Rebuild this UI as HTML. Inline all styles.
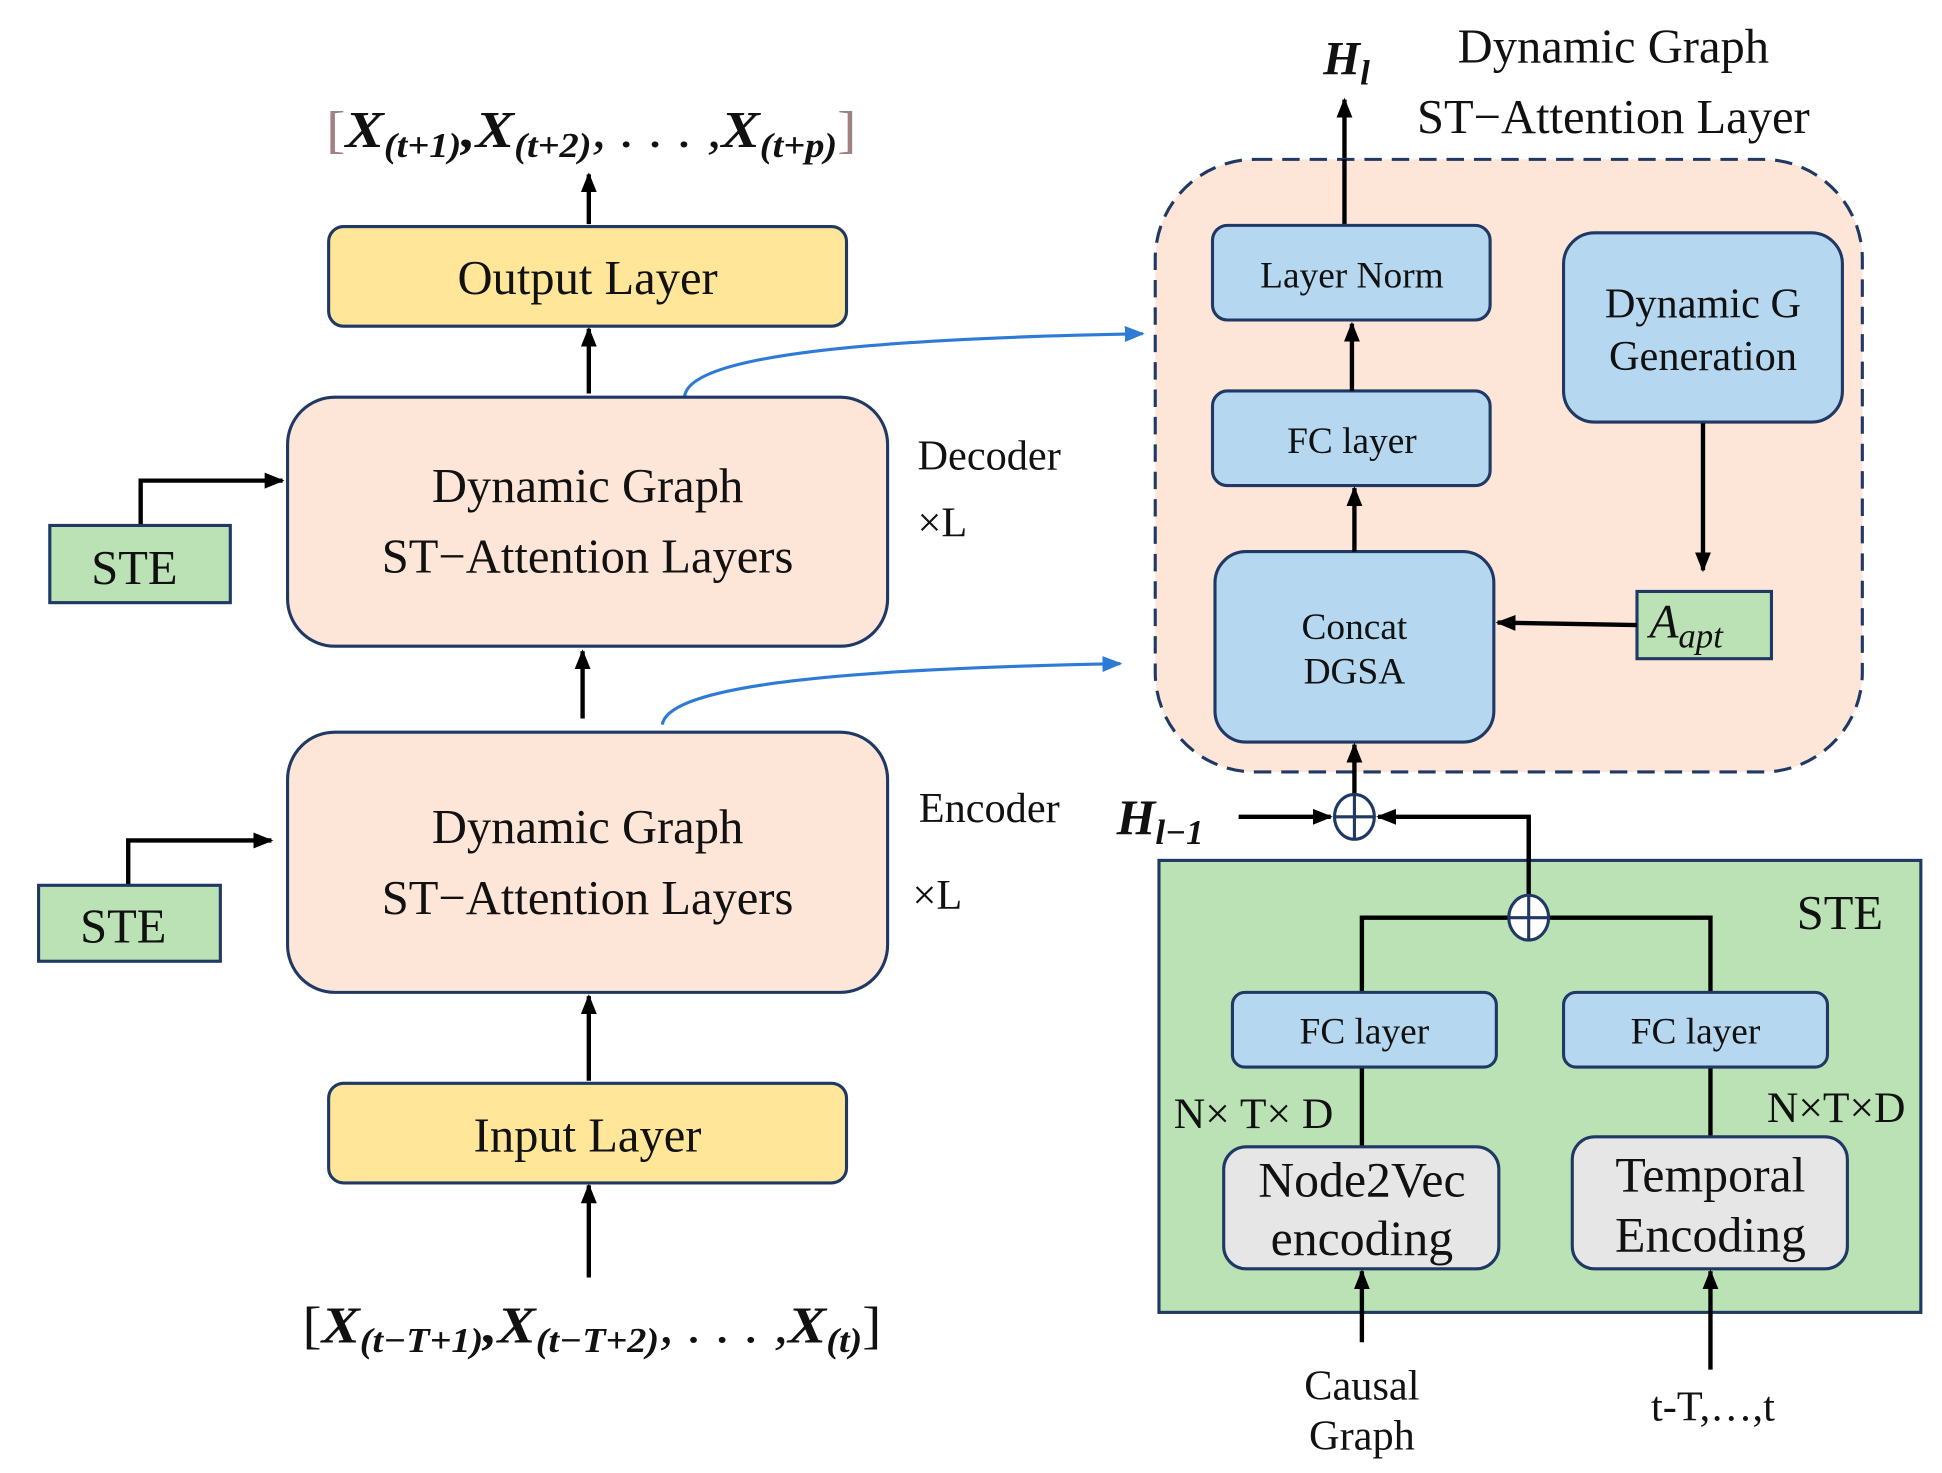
<!DOCTYPE html>
<html><head><meta charset="utf-8"><style>
html,body{margin:0;padding:0;background:#fff}
svg{display:block}
text{font-family:"Liberation Serif",serif;fill:#111}
</style></head><body>
<svg width="1942" height="1473" viewBox="0 0 1560 1183" preserveAspectRatio="none" xmlns="http://www.w3.org/2000/svg">
<defs>
<marker id="a" viewBox="0 0 10 10" refX="9" refY="5" markerWidth="16" markerHeight="16" orient="auto" markerUnits="userSpaceOnUse"><path d="M0,1L10,5L0,9z" fill="#000"/></marker>
<marker id="ab" viewBox="0 0 10 10" refX="9" refY="5" markerWidth="16" markerHeight="16" orient="auto" markerUnits="userSpaceOnUse"><path d="M0,1L10,5L0,9z" fill="#2E7BD6"/></marker>
</defs>
<g stroke="#000" stroke-width="3.5" fill="none" marker-end="url(#a)">
<line x1="473" y1="180" x2="473" y2="140"/>
<line x1="473" y1="316" x2="473" y2="264"/>
<line x1="468" y1="577" x2="468" y2="523"/>
<line x1="473" y1="868" x2="473" y2="800"/>
<line x1="473" y1="1026" x2="473" y2="952"/>
<polyline points="113,422 113,386 227,386"/>
<polyline points="103,711 103,675 218,675"/>
<line x1="1080" y1="180" x2="1080" y2="80"/>
</g>
<g stroke="#2E7BD6" stroke-width="2.5" fill="none" marker-end="url(#ab)">
<path d="M550,318 C555,285 700,272 918,268"/>
<path d="M532,582 C537,550 680,537 900,533"/>
</g>
<text x="262" y="118" font-size="42" textLength="426" lengthAdjust="spacingAndGlyphs" font-weight="bold" font-style="italic"><tspan fill="#a08080" font-weight="normal" font-style="normal">[</tspan>X<tspan font-size="28" dy="8">(t+1)</tspan><tspan dy="-8">,X</tspan><tspan font-size="28" dy="8">(t+2)</tspan><tspan dy="-8" font-weight="normal">, . . . ,</tspan>X<tspan font-size="28" dy="8">(t+p)</tspan><tspan dy="-8" fill="#a08080" font-weight="normal" font-style="normal">]</tspan></text>
<g stroke="#1F3864" stroke-width="2.5">
<rect x="264" y="182" width="416" height="80" rx="12" fill="#FFE699"/>
<rect x="231" y="319" width="482" height="200" rx="38" fill="#FDE5D8"/>
<rect x="40" y="422" width="145" height="62" fill="#BBE2B5"/>
<rect x="231" y="588" width="482" height="209" rx="38" fill="#FDE5D8"/>
<rect x="31" y="711" width="146" height="61" fill="#BBE2B5"/>
<rect x="264" y="870" width="416" height="80" rx="12" fill="#FFE699"/>
</g>
<text x="472" y="236" font-size="39" text-anchor="middle">Output Layer</text>
<text x="472" y="403" font-size="39" text-anchor="middle">Dynamic Graph</text>
<text x="472" y="460" font-size="39" text-anchor="middle">ST−Attention Layers</text>
<text x="108" y="469" font-size="39" text-anchor="middle">STE</text>
<text x="737" y="377" font-size="34">Decoder</text>
<text x="737" y="431" font-size="34">×L</text>
<text x="472" y="677" font-size="39" text-anchor="middle">Dynamic Graph</text>
<text x="472" y="734" font-size="39" text-anchor="middle">ST−Attention Layers</text>
<text x="99" y="757" font-size="39" text-anchor="middle">STE</text>
<text x="738" y="660" font-size="34">Encoder</text>
<text x="733" y="730" font-size="34">×L</text>
<text x="472" y="925" font-size="39" text-anchor="middle">Input Layer</text>
<text x="243" y="1078" font-size="42" textLength="465" lengthAdjust="spacingAndGlyphs" font-weight="bold" font-style="italic"><tspan font-weight="normal" font-style="normal">[</tspan>X<tspan font-size="28" dy="8">(t−T+1)</tspan><tspan dy="-8">,X</tspan><tspan font-size="28" dy="8">(t−T+2)</tspan><tspan dy="-8" font-weight="normal">, . . . ,</tspan>X<tspan font-size="28" dy="8">(t)</tspan><tspan dy="-8" font-weight="normal" font-style="normal">]</tspan></text>
<!-- right -->
<text x="1296" y="50" font-size="39" text-anchor="middle">Dynamic Graph</text>
<text x="1296" y="107" font-size="39" text-anchor="middle">ST−Attention Layer</text>
<text x="1063" y="60" font-size="38" font-weight="bold" font-style="italic">H<tspan font-size="28" dy="8">l</tspan></text>
<rect x="928" y="128" width="568" height="492" rx="80" fill="#FDE5D8" stroke="#1F3864" stroke-width="2.5" stroke-dasharray="14,8"/>
<line x1="1080" y1="181" x2="1080" y2="128" stroke="#000" stroke-width="3.5"/>
<g stroke="#1F3864" stroke-width="2.5" fill="#B5D8F0">
<rect x="974" y="181" width="223" height="76" rx="12"/>
<rect x="974" y="314" width="223" height="76" rx="12"/>
<rect x="976" y="443" width="224" height="153" rx="25"/>
<rect x="1256" y="187" width="224" height="152" rx="25"/>
</g>
<rect x="1315" y="475" width="108" height="54" fill="#BBE2B5" stroke="#1F3864" stroke-width="2.5"/>
<g stroke="#000" stroke-width="3.5" fill="none" marker-end="url(#a)">
<line x1="1086" y1="314" x2="1086" y2="260"/>
<line x1="1088" y1="443" x2="1088" y2="392"/>
<line x1="1368" y1="340" x2="1368" y2="458"/>
<line x1="1315" y1="502" x2="1203" y2="500"/>
<line x1="1088" y1="640" x2="1088" y2="598"/>
<line x1="995" y1="656" x2="1069" y2="656"/>
<polyline points="1228,720 1228,656 1107,656"/>
</g>
<text x="1086" y="231" font-size="30" text-anchor="middle">Layer Norm</text>
<text x="1086" y="364" font-size="30" text-anchor="middle">FC layer</text>
<text x="1088" y="513" font-size="30" text-anchor="middle">Concat</text>
<text x="1088" y="549" font-size="30" text-anchor="middle">DGSA</text>
<text x="1368" y="255" font-size="34" text-anchor="middle">Dynamic G</text>
<text x="1368" y="297" font-size="34" text-anchor="middle">Generation</text>
<text x="1325" y="512" font-size="38" font-style="italic">A<tspan font-size="28" dy="8">apt</tspan></text>
<text x="897" y="670" font-size="40" font-weight="bold" font-style="italic">H<tspan font-size="28" dy="8">l−1</tspan></text>
<rect x="931" y="691" width="612" height="363" fill="#BBE2B5" stroke="#1F3864" stroke-width="2.5"/>
<g stroke="#000" stroke-width="3.5" fill="none">
<polyline points="1094,797 1094,737 1374,737 1374,797"/>
<line x1="1228" y1="737" x2="1228" y2="656"/>
<line x1="1094" y1="857" x2="1094" y2="921"/>
<line x1="1374" y1="857" x2="1374" y2="913"/>
</g>
<g stroke="#1F3864" stroke-width="2.5">
<ellipse cx="1088" cy="656" rx="16" ry="18" fill="#fff"/>
<line x1="1072" y1="656" x2="1104" y2="656"/><line x1="1088" y1="638" x2="1088" y2="674"/>
<ellipse cx="1228" cy="737" rx="16" ry="18" fill="#fff"/>
<line x1="1212" y1="737" x2="1244" y2="737"/><line x1="1228" y1="719" x2="1228" y2="755"/>
<rect x="990" y="797" width="212" height="60" rx="10" fill="#B5D8F0"/>
<rect x="1256" y="797" width="212" height="60" rx="10" fill="#B5D8F0"/>
<rect x="983" y="921" width="221" height="98" rx="18" fill="#E7E6E6"/>
<rect x="1263" y="913" width="221" height="106" rx="18" fill="#E7E6E6"/>
</g>
<text x="1478" y="746" font-size="39" text-anchor="middle">STE</text>
<text x="1096" y="838" font-size="30" text-anchor="middle">FC layer</text>
<text x="1362" y="838" font-size="30" text-anchor="middle">FC layer</text>
<text x="1007" y="906" font-size="35" text-anchor="middle">N× T× D</text>
<text x="1475" y="901" font-size="35" text-anchor="middle">N×T×D</text>
<text x="1094" y="961" font-size="40" text-anchor="middle">Node2Vec</text>
<text x="1094" y="1008" font-size="40" text-anchor="middle">encoding</text>
<text x="1374" y="957" font-size="40" text-anchor="middle">Temporal</text>
<text x="1374" y="1005" font-size="40" text-anchor="middle">Encoding</text>
<g stroke="#000" stroke-width="3.5" marker-end="url(#a)">
<line x1="1094" y1="1078" x2="1094" y2="1021"/>
<line x1="1374" y1="1100" x2="1374" y2="1021"/>
</g>
<text x="1094" y="1124" font-size="34" text-anchor="middle">Causal</text>
<text x="1094" y="1164" font-size="34" text-anchor="middle">Graph</text>
<text x="1376" y="1141" font-size="34" text-anchor="middle">t-T,…,t</text>
</svg>
</body></html>
